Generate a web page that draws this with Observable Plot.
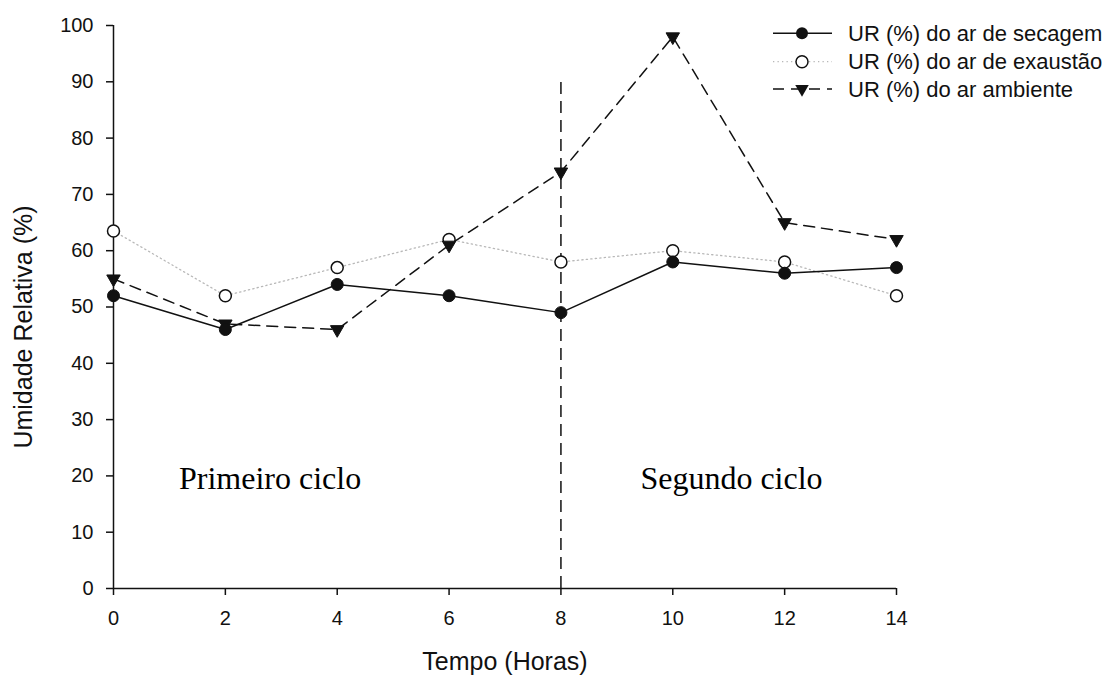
<!DOCTYPE html>
<html>
<head>
<meta charset="utf-8">
<script src="https://cdn.jsdelivr.net/npm/d3@7"></script>
<script src="https://cdn.jsdelivr.net/npm/@observablehq/plot@0.6"></script>
<style>
  html, body { margin: 0; padding: 0; background: #fff; }
  #wrap { position: relative; width: 1109px; height: 680px; }
  #legend { position: absolute; left: 0; top: 0; }
</style>
</head>
<body>
<div id="wrap"></div>
<script>
// ---- data ----
const hours = [0, 2, 4, 6, 8, 10, 12, 14];
const urSecagem = [52, 46, 54, 52, 49, 58, 56, 57];
const urExaustao = [63.5, 52, 57, 62, 58, 60, 58, 52];
const urAmbiente = [55, 47, 46, 61, 74, 98, 65, 62];
const seriesNames = ["UR (%) do ar de secagem", "UR (%) do ar de exaustão", "UR (%) do ar ambiente"];
const xTicks = [0, 2, 4, 6, 8, 10, 12, 14];
const yTicks = [0, 10, 20, 30, 40, 50, 60, 70, 80, 90, 100];
const cycleBoundary = 8;
const cycleBoundaryTop = 90;
const cycleLabels = ["Primeiro ciclo", "Segundo ciclo"];
const cycleLabelX = [2.8, 11.05];
const cycleLabelY = [19.5, 19.5];
const xTitle = "Tempo (Horas)";
const yTitle = "Umidade Relativa (%)";

const rows = (vals) => hours.map((h, i) => ({h, v: vals[i]}));
const sec = rows(urSecagem), exa = rows(urExaustao), amb = rows(urAmbiente);
const ann = cycleLabels.map((t, i) => ({t, x: cycleLabelX[i], y: cycleLabelY[i]}));

const sans = "'Liberation Sans', Arial, sans-serif";
const serif = "'Liberation Serif', 'Times New Roman', serif";
const ink = "#111";

const plot = Plot.plot({
  width: 1109,
  height: 680,
  marginLeft: 113,
  marginRight: 213,
  marginTop: 25,
  marginBottom: 92,
  style: {fontFamily: sans, background: "white", color: ink},
  x: {domain: [0, 14]},
  y: {domain: [0, 100]},
  marks: [
    Plot.axisX({ticks: xTicks, tickSize: 7, tickPadding: 15, fontSize: 20, label: null, strokeWidth: 1.5}),
    Plot.axisY({ticks: yTicks, tickSize: 7, tickPadding: 13, fontSize: 20, label: null, strokeWidth: 1.5}),
    Plot.ruleX([0], {y1: 0, y2: 100, stroke: ink, strokeWidth: 1.5}),
    Plot.ruleY([0], {x1: 0, x2: 14, stroke: ink, strokeWidth: 1.5}),
    Plot.ruleX([cycleBoundary], {y1: 0, y2: cycleBoundaryTop, stroke: ink, strokeWidth: 1.5, strokeDasharray: "12,7"}),
    Plot.text(ann, {x: "x", y: "y", text: "t", fontFamily: serif, fontSize: 32, fill: "#000"}),
    Plot.line(exa, {x: "h", y: "v", stroke: "#b8b8b8", strokeWidth: 1.3, strokeDasharray: "1.3,3.2"}),
    Plot.line(amb, {x: "h", y: "v", stroke: ink, strokeWidth: 1.5, strokeDasharray: "11,7"}),
    Plot.line(sec, {x: "h", y: "v", stroke: ink, strokeWidth: 1.5}),
    Plot.dot(exa, {x: "h", y: "v", r: 6, fill: "white", stroke: ink, strokeWidth: 1.5}),
    Plot.dot(amb, {x: "h", y: "v", symbol: "triangle", rotate: 180, r: 5, fill: ink, stroke: ink, strokeWidth: 1}),
    Plot.dot(sec, {x: "h", y: "v", r: 6, fill: ink, stroke: ink, strokeWidth: 1}),
    Plot.text([yTitle], {frameAnchor: "left", textAnchor: "middle", rotate: -90, dx: -90, dy: 20, fontSize: 25, fill: ink}),
    Plot.text([xTitle], {frameAnchor: "bottom", dy: 81, fontSize: 25, fill: ink})
  ]
});
const wrap = document.getElementById("wrap");
wrap.appendChild(plot);

// ---- legend overlay ----
const lg = d3.select(wrap).append("svg").attr("id", "legend")
  .attr("width", 1109).attr("height", 130);
const styles = [
  {dash: null, stroke: ink, sym: "circleFilled"},
  {dash: "1.3,3.2", stroke: "#b8b8b8", sym: "circleOpen"},
  {dash: "11,7", stroke: ink, sym: "triangle"}
];
const rowY = [33.3, 61.7, 89];
seriesNames.forEach((name, i) => {
  const g = lg.append("g").attr("transform", `translate(0,${rowY[i]})`);
  const s = styles[i];
  const ln = g.append("line").attr("x1", 773).attr("x2", 832).attr("y1", 0).attr("y2", 0)
    .attr("stroke", s.stroke).attr("stroke-width", s.dash === "1.3,3.2" ? 1.3 : 1.5);
  if (s.dash) ln.attr("stroke-dasharray", s.dash);
  if (s.sym === "circleFilled") g.append("circle").attr("cx", 802).attr("r", 6).attr("fill", ink);
  if (s.sym === "circleOpen") g.append("circle").attr("cx", 802).attr("r", 6).attr("fill", "white").attr("stroke", ink).attr("stroke-width", 1.5);
  if (s.sym === "triangle") g.append("path").attr("transform", "translate(802,0) rotate(180)")
    .attr("d", d3.symbol(d3.symbolTriangle, 78.5)()).attr("fill", ink);
  g.append("text").attr("x", 848).attr("y", 0).attr("dy", "0.35em")
    .attr("font-family", sans).attr("font-size", 22).attr("fill", ink).text(name);
});
</script>
</body>
</html>
